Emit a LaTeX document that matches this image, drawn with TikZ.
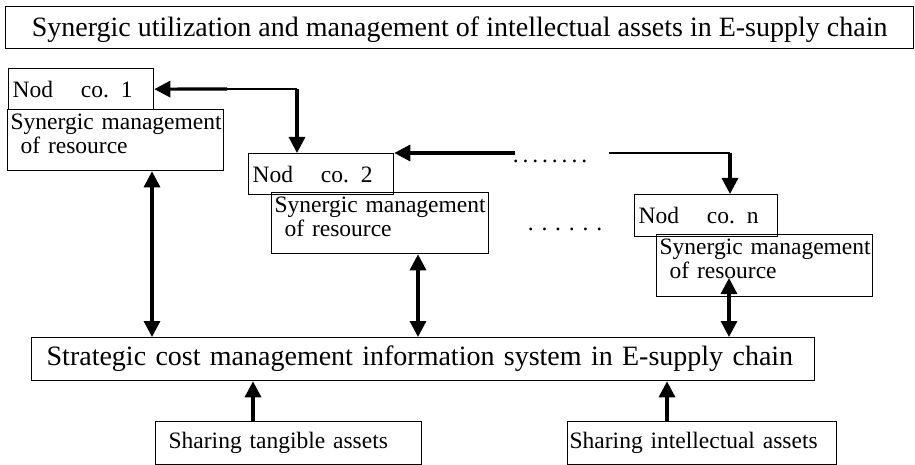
\documentclass[tikz,border=0pt]{standalone}
\usepackage{fontspec}
\setmainfont{Liberation Serif}
\usetikzlibrary{arrows.meta}
\begin{document}
\begin{tikzpicture}[x=1pt,y=-1pt,
  box/.style={draw,line width=1.3pt,rectangle,anchor=north west,
    inner ysep=0pt,align=left,font=\fontsize{23.5}{24}\selectfont},
  big/.style={font=\fontsize{28}{30}\selectfont},
  resbox/.style={box,text height=20pt,text depth=41pt},
  tip/.tip={Triangle[length=16pt,width=16pt]},
  arr/.style={line width=3.2pt,-tip},
  dbl/.style={line width=3.2pt,tip-tip},
  thinline/.style={line width=1.5pt},
  dots/.style={inner sep=0pt,font=\fontsize{23.5}{24}\selectfont}]
\useasboundingbox (0,0) rectangle (915,465);

% title
\node[box,big,align=center,minimum width=908pt,minimum height=42pt,inner xsep=0pt,
      text height=30pt,text depth=12pt] (title) at (5,6)
  {Synergic utilization and management of intellectual assets in E-supply chain};

% node companies with their resource boxes
\node[box,minimum width=145pt,minimum height=41pt,inner xsep=4pt,text width=137pt] (nod1) at (8,68)
  {\mbox{Nod\hspace{20pt} co. 1}};
\node[resbox,minimum width=216pt,inner xsep=3pt,text width=210pt] (syn1) at (7,109)
  {\mbox{Synergic management}\\\mbox{\hspace*{10pt}of resource}};

\node[box,minimum width=145pt,minimum height=41pt,inner xsep=4pt,text width=137pt] (nod2) at (248,153)
  {\mbox{Nod\hspace{20pt} co. 2}};
\node[resbox,minimum width=217pt,inner xsep=3pt,text width=211pt] (syn2) at (271,192)
  {\mbox{Synergic management}\\\mbox{\hspace*{10pt}of resource}};

\node[box,minimum width=143pt,minimum height=42pt,inner xsep=4pt,text width=135pt] (nodn) at (634,194)
  {\mbox{Nod\hspace{20pt} co. n}};
\node[resbox,minimum width=216pt,inner xsep=3pt,text width=210pt,text depth=42pt] (synn) at (656,234)
  {\mbox{Synergic management}\\\mbox{\hspace*{10pt}of resource}};

% information system and sharing boxes
\node[box,big,minimum width=783pt,minimum height=43pt,inner xsep=15pt,text width=753pt] (strat) at (31,337)
  {\mbox{Strategic cost management information system in E-supply chain}};
\node[box,minimum width=266pt,minimum height=43pt,inner xsep=13pt,text width=240pt] (tang) at (155,421)
  {\mbox{Sharing tangible assets}};
\node[box,minimum width=269pt,minimum height=43pt,inner xsep=2pt,text width=265pt] (intel) at (567,421)
  {\mbox{Sharing intellectual assets}};

% ellipses
\node[dots] (dots1) at (550,161) {.\,.\,.\,.\,.\,.\,.\,.};
\node[dots] (dots2) at (565,229) {. . . . . .};

% chain of arrows between companies
\coordinate (k1b) at (227,89);
\coordinate (k1) at (297,89);
\draw[arr] (k1b) -- (nod1.east);
\draw[thinline] (k1b) -- (k1);
\draw[arr] (k1) -- (nod2.north -| k1);

\coordinate (k2) at (515,153);
\draw[arr] (k2) -- (nod2.north east);

\coordinate (k3a) at (609,153);
\coordinate (k3) at (730,153);
\draw[thinline] (k3a) -- (k3);
\draw[arr] (k3) -- (nodn.north -| k3);

% links to the information system
\coordinate (v1) at (152,0);
\coordinate (v2) at (418,0);
\coordinate (v3) at (729,278);
\draw[dbl] (syn1.south -| v1) -- (strat.north -| v1);
\draw[dbl] (syn2.south -| v2) -- (strat.north -| v2);
\draw[dbl] (v3) -- (strat.north -| v3);

\coordinate (u1) at (253,0);
\coordinate (u2) at (667,0);
\draw[arr] (tang.north -| u1) -- (strat.south -| u1);
\draw[arr] (intel.north -| u2) -- (strat.south -| u2);
\end{tikzpicture}
\end{document}
